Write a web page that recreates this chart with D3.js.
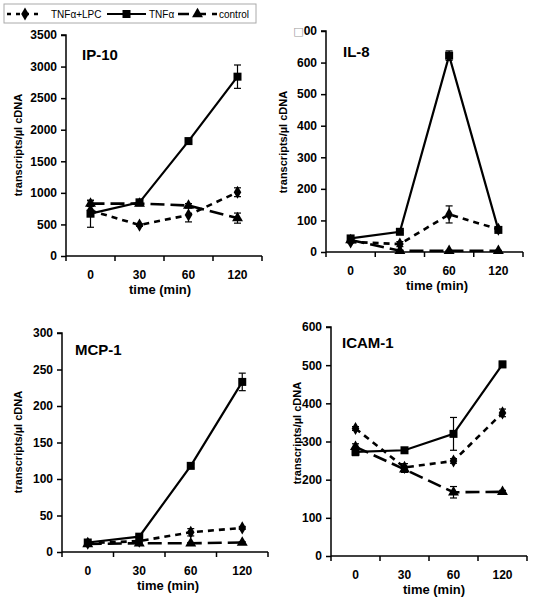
<!DOCTYPE html>
<html>
<head>
<meta charset="utf-8">
<script src="https://cdn.jsdelivr.net/npm/d3@7/dist/d3.min.js"></script>
<style>
body{margin:0;background:#fff;}
svg{display:block;}
text{font-family:"Liberation Sans",Arial,sans-serif;fill:#000;}
</style>
</head>
<body>
<svg id="chart" width="536" height="601"></svg>
<script>
// ---------- DATA ----------
const timePoints = ["0", "30", "60", "120"];
const seriesNames = ["TNFα+LPC", "TNFα", "control"];

// IP-10
const ip10Lpc = [720, 490, 650, 1010];
const ip10LpcErr = [0, 20, 110, 70];
const ip10Tnf = [670, 850, 1820, 2840];
const ip10TnfErr = [215, 30, 30, 185];
const ip10Ctrl = [830, 830, 800, 600];
const ip10CtrlErr = [45, 20, 30, 80];
const ip10Ticks = [0, 500, 1000, 1500, 2000, 2500, 3000, 3500];
const ip10TickLabels = ["0", "500", "1000", "1500", "2000", "2500", "3000", "3500"];

// IL-8
const il8Lpc = [32, 25, 119, 72];
const il8LpcErr = [3, 8, 27, 5];
const il8Tnf = [43, 64, 622, 70];
const il8TnfErr = [4, 4, 15, 4];
const il8Ctrl = [38, 4, 4, 4];
const il8CtrlErr = [3, 1, 1, 1];
const il8Ticks = [0, 100, 200, 300, 400, 500, 600, 700];
const il8TickLabels = ["0", "100", "200", "300", "400", "500", "600", "\u25A100"];

// MCP-1
const mcpLpc = [12, 15, 27, 33];
const mcpLpcErr = [1, 1, 5, 2];
const mcpTnf = [13, 21, 118, 233];
const mcpTnfErr = [2, 2, 3, 12];
const mcpCtrl = [11, 12, 12, 13];
const mcpCtrlErr = [1, 1, 1, 1];
const mcpTicks = [0, 50, 100, 150, 200, 250, 300];
const mcpTickLabels = ["0", "50", "100", "150", "200", "250", "300"];

// ICAM-1
const icamLpc = [334, 232, 249, 375];
const icamLpcErr = [5, 10, 6, 10];
const icamTnf = [273, 277, 320, 502];
const icamTnfErr = [10, 5, 43, 8];
const icamCtrl = [286, 227, 167, 168];
const icamCtrlErr = [8, 8, 15, 4];
const icamTicks = [0, 100, 200, 300, 400, 500, 600];
const icamTickLabels = ["0", "100", "200", "300", "400", "500", "600"];

const panelTitles = ["IP-10", "IL-8", "MCP-1", "ICAM-1"];
const yAxisTitle = "transcripts/µl cDNA";
const xAxisTitle = "time (min)";

// ---------- LAYOUT ----------
const panels = [
  {title: panelTitles[0], series: [[ip10Lpc, ip10LpcErr], [ip10Tnf, ip10TnfErr], [ip10Ctrl, ip10CtrlErr]],
   ticks: ip10Ticks, labels: ip10TickLabels,
   x0: 66, x1: 262, yb: 256, yt: 35, titleX: 82, titleY: 60, ylabX: 18, ylabY: 145, xlabX: 160, xlabY: 294},
  {title: panelTitles[1], series: [[il8Lpc, il8LpcErr], [il8Tnf, il8TnfErr], [il8Ctrl, il8CtrlErr]],
   ticks: il8Ticks, labels: il8TickLabels,
   x0: 326, x1: 523, yb: 252, yt: 31, titleX: 343, titleY: 57, ylabX: 283, ylabY: 142, xlabX: 437, xlabY: 290},
  {title: panelTitles[2], series: [[mcpLpc, mcpLpcErr], [mcpTnf, mcpTnfErr], [mcpCtrl, mcpCtrlErr]],
   ticks: mcpTicks, labels: mcpTickLabels,
   x0: 62, x1: 268, yb: 552, yt: 333, titleX: 75, titleY: 355, ylabX: 18, ylabY: 442, xlabX: 168, xlabY: 590},
  {title: panelTitles[3], series: [[icamLpc, icamLpcErr], [icamTnf, icamTnfErr], [icamCtrl, icamCtrlErr]],
   ticks: icamTicks, labels: icamTickLabels,
   x0: 331, x1: 527, yb: 556, yt: 327, titleX: 342, titleY: 348, ylabX: 297, ylabY: 433, xlabX: 434, xlabY: 594}
];

const styles = [
  {dash: "6,5", width: 2.6, marker: d3.symbolDiamond, size: 50},
  {dash: null, width: 2.2, marker: d3.symbolSquare, size: 64},
  {dash: "14,6", width: 2.6, marker: d3.symbolTriangle, size: 52}
];

const svg = d3.select("#chart");

panels.forEach(p => {
  const g = svg.append("g");
  const x = d3.scaleBand().domain(timePoints).range([p.x0, p.x1]).padding(0);
  const y = d3.scaleLinear().domain([p.ticks[0], p.ticks[p.ticks.length - 1]]).range([p.yb, p.yt]);

  // y axis
  const yAxis = d3.axisLeft(y).tickValues(p.ticks).tickSize(5).tickPadding(4)
    .tickFormat((d, i) => p.labels[i]);
  const ya = g.append("g").attr("transform", `translate(${p.x0},0)`).call(yAxis);
  ya.select(".domain").attr("stroke", "#000").attr("stroke-width", 1.5).attr("d", `M-5,${p.yt}H0V${p.yb}`);
  ya.selectAll(".tick line").attr("stroke-width", 1.5);
  ya.selectAll(".tick text").attr("font-size", 12).attr("font-weight", "bold")
    .attr("font-family", '"Liberation Sans",Arial,sans-serif')
    .each(function (d, i) {
      const s = p.labels[i];
      if (s.indexOf("\u25A1") === 0) {
        const t = d3.select(this);
        t.text(null);
        t.append("tspan").attr("fill", "#999").attr("font-weight", "normal")
          .attr("font-family", '"DejaVu Sans",sans-serif').attr("font-size", 11).text("\u25A1");
        t.append("tspan").text(s.slice(1));
      }
    });

  // x axis
  const xa = g.append("g").attr("transform", `translate(0,${p.yb})`);
  xa.append("path").attr("d", `M${p.x0},0H${p.x1}`).attr("stroke", "#000").attr("stroke-width", 1.5).attr("fill", "none");
  const bounds = timePoints.map(t => x(t)).concat([x(timePoints[timePoints.length - 1]) + x.bandwidth()]);
  xa.selectAll("line.tk").data(bounds).join("line").attr("class", "tk")
    .attr("x1", d => d).attr("x2", d => d).attr("y1", 0).attr("y2", 5)
    .attr("stroke", "#000").attr("stroke-width", 1.5);
  xa.selectAll("text.tl").data(timePoints).join("text").attr("class", "tl")
    .attr("x", d => x(d) + x.bandwidth() / 2).attr("y", 23)
    .attr("text-anchor", "middle").attr("font-size", 12).attr("font-weight", "bold").text(d => d);

  // titles
  g.append("text").attr("x", p.titleX).attr("y", p.titleY).attr("font-size", 15).attr("font-weight", "bold").text(p.title);
  g.append("text").attr("transform", `translate(${p.ylabX},${p.ylabY}) rotate(-90)`)
    .attr("text-anchor", "middle").attr("dy", "0.35em").attr("font-size", 11).attr("font-weight", "bold").text(yAxisTitle);
  g.append("text").attr("x", p.xlabX).attr("y", p.xlabY).attr("text-anchor", "middle")
    .attr("font-size", 13).attr("font-weight", "bold").text(xAxisTitle);

  const cx = t => x(t) + x.bandwidth() / 2;

  // series
  p.series.forEach((s, si) => {
    const vals = s[0], errs = s[1], st = styles[si];
    const pts = timePoints.map((t, i) => ({t, v: vals[i], e: errs[i]}));
    const line = d3.line().x(d => cx(d.t)).y(d => y(d.v));
    g.append("path").datum(pts).attr("d", line).attr("fill", "none").attr("stroke", "#000")
      .attr("stroke-width", st.width).attr("stroke-dasharray", st.dash);
    // error bars
    const eb = g.append("g").attr("stroke", "#000").attr("stroke-width", 1.2);
    pts.filter(d => d.e > 0).forEach(d => {
      const xx = cx(d.t), yh = y(d.v + d.e), yl = y(d.v - d.e);
      eb.append("line").attr("x1", xx).attr("x2", xx).attr("y1", yh).attr("y2", yl);
      eb.append("line").attr("x1", xx - 3.5).attr("x2", xx + 3.5).attr("y1", yh).attr("y2", yh);
      eb.append("line").attr("x1", xx - 3.5).attr("x2", xx + 3.5).attr("y1", yl).attr("y2", yl);
    });
    g.selectAll(null).data(pts).join("path")
      .attr("d", d3.symbol().type(st.marker).size(st.size))
      .attr("transform", d => `translate(${cx(d.t)},${y(d.v)})`).attr("fill", "#000");
  });
});

// ---------- LEGEND ----------
const lg = svg.append("g");
lg.append("rect").attr("x", 4).attr("y", 4).attr("width", 252).attr("height", 19)
  .attr("fill", "#fff").attr("stroke", "#aaa").attr("stroke-width", 1);
const legendX = [[7, 43, 51], [107, 146, 149], [178, 217, 219]];
seriesNames.forEach((n, i) => {
  const st = styles[i], [a, b, tx] = legendX[i];
  lg.append("line").attr("x1", a).attr("x2", b).attr("y1", 14).attr("y2", 14)
    .attr("stroke", "#000").attr("stroke-width", st.width)
    .attr("stroke-dasharray", i === 0 ? "4,5" : (i === 2 ? "11,6" : null));
  lg.append("path").attr("d", d3.symbol().type(st.marker).size(st.size))
    .attr("transform", `translate(${(a + b) / 2},14)`).attr("fill", "#000");
  lg.append("text").attr("x", tx).attr("y", 17.5).attr("font-size", 10).text(n);
});
</script>
</body>
</html>
